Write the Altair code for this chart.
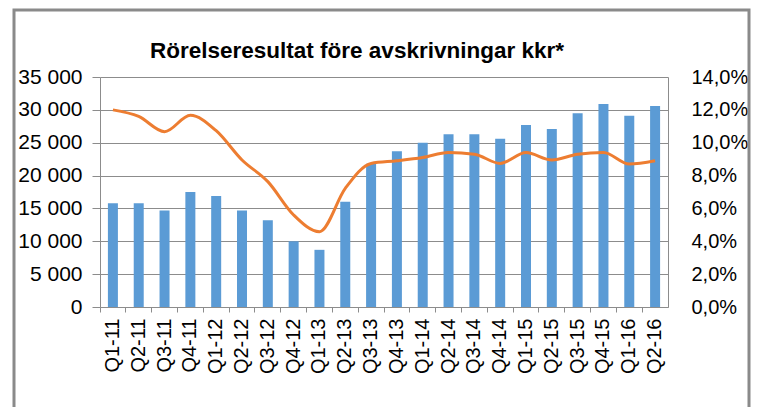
import altair as alt
import pandas as pd

quarters = ["Q1-11", "Q2-11", "Q3-11", "Q4-11", "Q1-12", "Q2-12", "Q3-12", "Q4-12",
            "Q1-13", "Q2-13", "Q3-13", "Q4-13", "Q1-14", "Q2-14", "Q3-14", "Q4-14",
            "Q1-15", "Q2-15", "Q3-15", "Q4-15", "Q1-16", "Q2-16"]
ebitda = [15800, 15800, 14700, 17500, 16900, 14700, 13200, 10000,
          8700, 16000, 21800, 23700, 25000, 26300, 26300, 25600,
          27700, 27100, 29500, 30900, 29100, 30600]
margin = [0.120, 0.116, 0.1067, 0.1167, 0.1073, 0.0895, 0.0763, 0.056,
          0.0458, 0.0722, 0.0874, 0.089, 0.091, 0.094, 0.093, 0.0874,
          0.094, 0.0895, 0.093, 0.094, 0.087, 0.089]
title_text = "Rörelseresultat före avskrivningar kkr*"

df = pd.DataFrame({"q": quarters, "v": ebitda, "m": margin})

FONT = "Liberation Sans"
GRID = "#8c8c8c"

xenc = alt.X("q:N", sort=quarters, title=None,
             scale=alt.Scale(paddingInner=0, paddingOuter=0),
             axis=alt.Axis(labelAngle=-90, labelFontSize=20, labelFont=FONT,
                           labelColor="#000", labelPadding=6, bandPosition=0,
                           tickSize=5, tickColor=GRID, domainColor=GRID,
                           grid=False))

bars = alt.Chart(df).mark_bar(color="#5B9BD5", size=10).encode(
    x=xenc,
    y=alt.Y("v:Q", title=None,
            scale=alt.Scale(domain=[0, 35000], nice=False),
            axis=alt.Axis(values=[0, 5000, 10000, 15000, 20000, 25000, 30000, 35000],
                          labelExpr="replace(format(datum.value, ','), ',', ' ')",
                          labelFontSize=21, labelFont=FONT, labelColor="#000",
                          tickSize=8, tickColor=GRID, domainColor=GRID,
                          gridColor=GRID, labelPadding=10)),
)

line = alt.Chart(df).mark_line(color="#ED7D31", strokeWidth=3,
                               interpolate="monotone").encode(
    x=alt.X("q:N", sort=quarters),
    y=alt.Y("m:Q", title=None,
            scale=alt.Scale(domain=[0, 0.14], nice=False),
            axis=alt.Axis(orient="right",
                          values=[0, 0.02, 0.04, 0.06, 0.08, 0.10, 0.12, 0.14],
                          labelExpr="replace(format(datum.value, '.1%'), '.', ',')",
                          labelFontSize=20, labelFont=FONT, labelColor="#000",
                          ticks=False, domainColor=GRID, grid=False,
                          labelPadding=23)),
)

one = pd.DataFrame({"t": [title_text]})

frame = alt.Chart(one).mark_rect(
    fill=None, stroke="#8a8a8a", strokeWidth=3
).encode(
    x=alt.value(-86), x2=alt.value(649),
    y=alt.value(-67), y2=alt.value(345),
)

title = alt.Chart(one).mark_text(
    font=FONT, fontSize=22.5, fontWeight="bold", color="#000",
    align="center", baseline="alphabetic"
).encode(
    text="t:N", x=alt.value(257), y=alt.value(-19),
)

chart = alt.layer(bars, line, frame, title).resolve_scale(y="independent").properties(
    width=568, height=230,
    autosize=alt.AutoSizeParams(type="none"),
    padding={"left": 100, "top": 77, "right": 89, "bottom": 100},
    background="white",
).configure_view(stroke=None)

chart.save("out.html", embed_options={"renderer": "svg", "actions": False})
